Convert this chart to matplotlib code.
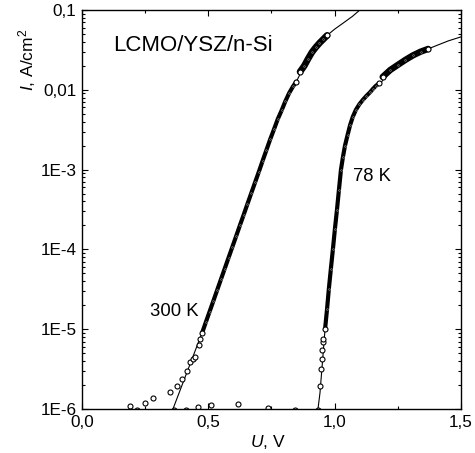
import matplotlib
matplotlib.use("Agg")
import matplotlib.pyplot as plt
from matplotlib.ticker import FixedLocator, LogLocator, NullFormatter

plt.rcParams['font.family'] = ['Liberation Sans', 'DejaVu Sans']
plt.rcParams['mathtext.fontset'] = 'custom'
plt.rcParams['mathtext.it'] = 'Liberation Sans:italic'
plt.rcParams['mathtext.rm'] = 'Liberation Sans'

# 300 K: scattered points near the noise floor
u300_low = [0.19, 0.218, 0.25, 0.28, 0.347, 0.363, 0.375, 0.397, 0.41, 0.415,
            0.426, 0.44, 0.447, 0.46, 0.463, 0.468, 0.51, 0.617]
i300_low = [1.09e-6, 0.98e-6, 1.19e-6, 1.37e-6, 1.63e-6, 0.97e-6, 1.94e-6, 2.4e-6,
            0.97e-6, 3.0e-6, 3.9e-6, 4.2e-6, 4.5e-6, 1.05e-6, 6.3e-6, 7.5e-6,
            1.12e-6, 1.15e-6]

# 300 K: dense measured band (lower and upper part)
u300_a = [0.475, 0.49, 0.505, 0.52, 0.535, 0.55, 0.565, 0.58, 0.595, 0.61, 0.625,
          0.64, 0.655, 0.67, 0.685, 0.70, 0.715, 0.73, 0.745, 0.76, 0.775, 0.79,
          0.805, 0.82, 0.835, 0.848]
i300_a = [8.9e-6, 1.22e-5, 1.66e-5, 2.26e-5, 3.09e-5, 4.22e-5, 5.75e-5, 7.85e-5,
          1.07e-4, 1.46e-4, 2.0e-4, 2.72e-4, 3.72e-4, 5.07e-4, 6.9e-4, 9.4e-4,
          1.29e-3, 1.76e-3, 2.4e-3, 3.2e-3, 4.3e-3, 5.5e-3, 7.2e-3, 9.1e-3,
          1.1e-2, 1.26e-2]
u300_b = [0.863, 0.88, 0.895, 0.91, 0.925, 0.94, 0.955, 0.97]
i300_b = [0.0168, 0.020, 0.0245, 0.0295, 0.034, 0.0385, 0.043, 0.048]

# 300 K: fit curve
u300_fit = [0.36, 0.475, 0.60, 0.70, 0.76, 0.805, 0.848, 0.88, 0.91, 0.94, 0.97,
            1.0, 1.035, 1.07, 1.10, 1.12]
i300_fit = [1.0e-6, 9.0e-6, 1.2e-4, 9.4e-4, 3.2e-3, 7.2e-3, 1.26e-2, 0.020, 0.0295,
            0.0385, 0.048, 0.0575, 0.069, 0.083, 0.100, 0.112]

# 78 K: scattered points near the noise floor
u78_low = [0.735, 0.843, 0.934, 0.942, 0.946, 0.95, 0.951, 0.954, 0.955]
i78_low = [1.02e-6, 0.97e-6, 0.98e-6, 1.94e-6, 3.2e-6, 4.2e-6, 5.5e-6, 6.9e-6, 7.5e-6]

# 78 K: dense measured band
u78_a = [0.962, 0.97, 0.977, 0.985, 0.993, 1.001, 1.009, 1.017, 1.025, 1.033,
         1.041, 1.051, 1.061, 1.072, 1.084, 1.098, 1.112, 1.126, 1.140, 1.152,
         1.163, 1.176]
i78_a = [1.0e-5, 1.8e-5, 3.2e-5, 5.7e-5, 1.0e-4, 1.8e-4, 3.1e-4, 5.6e-4, 1.0e-3,
         1.45e-3, 2.0e-3, 2.7e-3, 3.6e-3, 4.6e-3, 5.6e-3, 6.6e-3, 7.5e-3, 8.4e-3,
         9.3e-3, 1.03e-2, 1.12e-2, 1.2e-2]
u78_b = [1.19, 1.22, 1.25, 1.28, 1.31, 1.34, 1.37]
i78_b = [0.0145, 0.0177, 0.0205, 0.0237, 0.027, 0.030, 0.0325]

# 78 K: fit curve
u78_fit = [0.934, 0.942, 0.962, 0.993, 1.025, 1.041, 1.061, 1.084, 1.112, 1.140,
           1.163, 1.183, 1.22, 1.25, 1.28, 1.31, 1.34, 1.37, 1.40, 1.45, 1.50]
i78_fit = [1.0e-6, 1.6e-6, 1.0e-5, 1.0e-4, 1.0e-3, 2.0e-3, 3.6e-3, 5.6e-3, 7.5e-3,
           9.3e-3, 1.12e-2, 1.22e-2, 0.0177, 0.0205, 0.0237, 0.027, 0.030, 0.0325,
           0.0355, 0.041, 0.046]

x_ticks = [0.0, 0.5, 1.0, 1.5]
x_labels = ['0,0', '0,5', '1,0', '1,5']
y_ticks = [1e-6, 1e-5, 1e-4, 1e-3, 1e-2, 1e-1]
y_labels = ['1E-6', '1E-5', '1E-4', '1E-3', '0,01', '0,1']

fig = plt.figure(figsize=(4.75, 4.53), dpi=100)
ax = fig.add_axes([0.1726, 0.0971, 0.7979, 0.8809])
ax.set_yscale('log')

mk = dict(marker='o', linestyle='none', markersize=3.6, mfc='white',
          mec='black', mew=0.8)

# fit curves
ax.plot(u300_fit, i300_fit, color='black', lw=0.8)
ax.plot(u78_fit, i78_fit, color='black', lw=0.8)

# measured bands: overlapping circles look like a thick black stroke
for u, i, w in [(u300_a, i300_a, 3.0), (u300_b, i300_b, 4.8),
                (u78_a, i78_a, 3.0), (u78_b, i78_b, 4.6)]:
    ax.plot(u, i, color='black', lw=w, solid_capstyle='round')
    ax.plot(u, i, marker='o', linestyle='none', markersize=1.2, mfc='none',
            mec='#9a9a9a', mew=0.4)
    ax.plot([u[0], u[-1]], [i[0], i[-1]], **mk)

ax.plot(u300_low, i300_low, **mk)
ax.plot(u78_low, i78_low, **mk)

ax.set_xlim(0, 1.5)
ax.set_ylim(1e-6, 0.1)
ax.xaxis.set_major_locator(FixedLocator(x_ticks))
ax.set_xticklabels(x_labels)
ax.xaxis.set_minor_locator(FixedLocator([0.25, 0.75, 1.25]))
ax.yaxis.set_major_locator(FixedLocator(y_ticks))
ax.set_yticklabels(y_labels)
ax.yaxis.set_minor_locator(LogLocator(base=10, subs=range(2, 10), numticks=20))
ax.yaxis.set_minor_formatter(NullFormatter())

ax.tick_params(which='both', direction='in', top=True, right=True,
               labelsize=12.3, width=0.8, pad=4)
ax.tick_params(which='major', length=4)
ax.tick_params(which='minor', length=2.2)
for s in ax.spines.values():
    s.set_linewidth(1.0)

ax.text(0.082, 0.912, 'LCMO/YSZ/n-Si', transform=ax.transAxes, fontsize=16,
        ha='left', va='center')
ax.text(0.27, 1.65e-5, '300 K', fontsize=13.3, ha='left', va='center')
ax.text(1.072, 8.3e-4, '78 K', fontsize=13.3, ha='left', va='center')

ax.text(-0.145, 0.875, r'$I$, A/cm$^2$', transform=ax.transAxes, rotation=90,
        fontsize=12.5, ha='center', va='center')
ax.text(0.49, -0.083, r'$U$, V', transform=ax.transAxes, fontsize=12.5,
        ha='center', va='center')

fig.savefig('out.png', dpi=100)
